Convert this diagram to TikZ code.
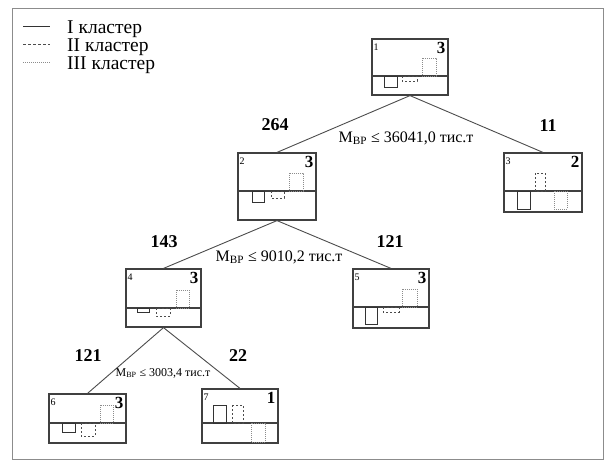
\documentclass[tikz,border=0pt]{standalone}
\usepackage{fontspec}
\setmainfont{Liberation Serif}
\tikzset{
	leaf/.style={draw=black!75, line width=1.2pt, inner sep=0pt},
	branch/.style={draw=black!70, line width=0.9pt},
	barsolid/.style={draw=black!80, line width=1pt},
	bardashed/.style={draw=black!70, line width=0.9pt, dash pattern=on 2pt off 2pt},
	bardotted/.style={draw=black!45, line width=0.8pt, dash pattern=on 0.8pt off 1.2pt},
	legendtext/.style={font=\fontsize{19.5}{21}\selectfont, anchor=base west, inner sep=0pt},
	cntlabel/.style={font=\fontsize{18}{20}\selectfont\bfseries},
	rulelabel/.style={font=\fontsize{16}{18}\selectfont},
	boxid/.style={font=\fontsize{10}{11}\selectfont, anchor=north west, inner sep=2pt, yshift=-3pt},
	boxcl/.style={font=\fontsize{17}{18}\selectfont\bfseries, anchor=north east, inner sep=3pt, yshift=-1pt}
}
\begin{document}
\begin{tikzpicture}[x=1pt, y=-1pt]
	\useasboundingbox (0,0) rectangle (615,472);
	% frame
	\draw[black!45, line width=0.8pt] (12,8) rectangle (603,459);

	% legend
	\draw[barsolid] (23,26) -- (50,26);
	\draw[bardashed, dash pattern=on 3pt off 2pt] (23,44) -- (50,44);
	\draw[bardotted] (23,62) -- (50,62);
	\node[legendtext] (lg1) at (67,33) {I кластер};
	\node[legendtext] (lg2) at (67,51) {II кластер};
	\node[legendtext] (lg3) at (67,69) {III кластер};

	% boxes
	\node[leaf, minimum width=76pt, minimum height=56pt] (n1) at (410,67) {};
	\node[leaf, minimum width=78pt, minimum height=67pt] (n2) at (277,186.5) {};
	\node[leaf, minimum width=78pt, minimum height=59pt] (n3) at (543,182.5) {};
	\node[leaf, minimum width=75pt, minimum height=58pt] (n4) at (163.5,298) {};
	\node[leaf, minimum width=76pt, minimum height=59pt] (n5) at (391,298.5) {};
	\node[leaf, minimum width=77pt, minimum height=49pt] (n6) at (87.5,418.5) {};
	\node[leaf, minimum width=76pt, minimum height=54pt] (n7) at (240,416) {};

	% box numbers and clusters
	\node[boxid] at (n1.north west) {1};
	\node[boxcl] at (n1.north east) {3};
	\node[boxid] at (n2.north west) {2};
	\node[boxcl] at (n2.north east) {3};
	\node[boxid] at (n3.north west) {3};
	\node[boxcl] at (n3.north east) {2};
	\node[boxid] at (n4.north west) {4};
	\node[boxcl] at (n4.north east) {3};
	\node[boxid] at (n5.north west) {5};
	\node[boxcl] at (n5.north east) {3};
	\node[boxid] at (n6.north west) {6};
	\node[boxcl] at (n6.north east) {3};
	\node[boxid] at (n7.north west) {7};
	\node[boxcl] at (n7.north east) {1};

	% dividers
	\draw[leaf] (372,76) -- (448,76);
	\draw[leaf] (238,191) -- (316,191);
	\draw[leaf] (504,191) -- (582,191);
	\draw[leaf] (126,308) -- (201,308);
	\draw[leaf] (353,307) -- (429,307);
	\draw[leaf] (49,423) -- (126,423);
	\draw[leaf] (202,423) -- (278,423);

	% bars
	\draw[barsolid] (384,76) rectangle (397,87);
	\draw[bardashed] (402,76) rectangle (417,81);
	\draw[bardotted] (422,58) rectangle (436,76);

	\draw[barsolid] (252,191) rectangle (264,202);
	\draw[bardashed] (271,191) rectangle (284,198);
	\draw[bardotted] (289,173) rectangle (303,191);

	\draw[barsolid] (517,191) rectangle (530,209);
	\draw[bardashed] (535,173) rectangle (545,191);
	\draw[bardotted] (554,191) rectangle (567,209);

	\draw[barsolid] (137,308) rectangle (149,312);
	\draw[bardashed] (156,308) rectangle (170,316);
	\draw[bardotted] (176,290) rectangle (189,308);

	\draw[barsolid] (365,307) rectangle (377,324);
	\draw[bardashed] (383,307) rectangle (399,312);
	\draw[bardotted] (402,289) rectangle (417,307);

	\draw[barsolid] (62,423) rectangle (75,432);
	\draw[bardashed] (81,423) rectangle (95,436);
	\draw[bardotted] (100,405) rectangle (113,423);

	\draw[barsolid] (213,405) rectangle (226,423);
	\draw[bardashed] (232,405) rectangle (243,423);
	\draw[bardotted] (251,423) rectangle (265,442);

	% branches
	\draw[branch] (n1.south) -- (n2.north);
	\draw[branch] (n1.south) -- (n3.north);
	\draw[branch] (n2.south) -- (n4.north);
	\draw[branch] (n2.south) -- (n5.north);
	\draw[branch] (n4.south) -- (n6.north);
	\draw[branch] (n4.south) -- (n7.north);

	% counts
	\node[cntlabel] (c2) at (275,125) {264};
	\node[cntlabel] (c3) at (548,126) {11};
	\node[cntlabel] (c4) at (164,242) {143};
	\node[cntlabel] (c5) at (390,242) {121};
	\node[cntlabel] (c6) at (88,356) {121};
	\node[cntlabel] (c7) at (238,356) {22};

	% split rules
	\node[rulelabel] (r1) at (406,138) {М\textsubscript{ВР} ≤ 36041,0 тис.т};
	\node[rulelabel] (r2) at (279,257) {М\textsubscript{ВР} ≤ 9010,2 тис.т};
	\node[rulelabel, font=\fontsize{12}{14}\selectfont] (r3) at (163,373) {М\textsubscript{ВР} ≤ 3003,4 тис.т};
\end{tikzpicture}
\end{document}
